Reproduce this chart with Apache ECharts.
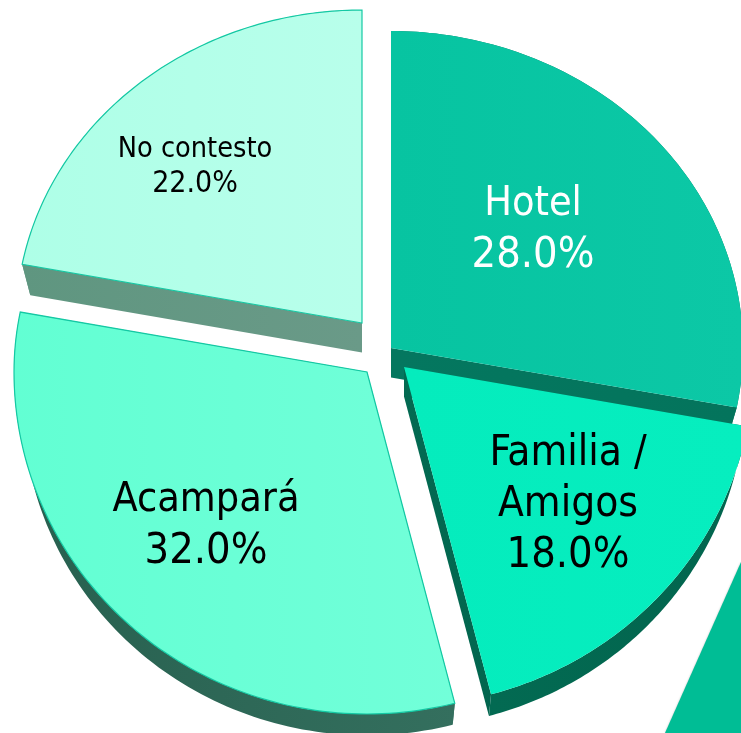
<!DOCTYPE html>
<html>
<head>
<meta charset="utf-8">
<style>
  html, body { margin: 0; padding: 0; background: #fff; }
  #chart { width: 741px; height: 733px; }
</style>
<script src="https://cdn.jsdelivr.net/npm/echarts@6/dist/echarts.min.js"></script>
</head>
<body>
<div id="chart"></div>
<script>
// data, in pie order (clockwise from 12 o'clock)
var categories = ['Hotel', 'Familia /\nAmigos', 'Acampará', 'No contesto'];
var percents = [28, 18, 32, 22];

// exploded layout of each slice: apex, ellipse radii, label centre and size
var apexX = [391, 404, 367, 362];
var apexY = [348, 367, 372, 323];
var radiusX = [352, 350, 353, 346];
var radiusYUp = [317, 338, 320, 313];
var radiusYDown = [317, 339, 342, 313];
var tilt = [0, -0.012, 0, 0];
var labelX = [533, 568, 206, 195];
var labelY = [230, 505, 526, 167];
var nameSize = [41, 42, 41, 28.6];
var percentSize = [43, 43, 43, 30];
var labelHeight = [52, 51, 52, 34];
var labelColor = ['#fff', '#000', '#000', '#000'];

// colours
var topLeft = ['#07c4a1', '#05ecbd', '#62ffd3', '#aeffe7'];
var topRight = ['#0cc8a6', '#06eebf', '#72ffd9', '#b8ffeb'];
var wallLeft = ['#04775f', '#036a52', '#27604f', '#5f9680'];
var wallRight = ['#04745c', '#02654e', '#346f5e', '#6a9a88'];
var outline = [null, null, '#14c9a4', '#14c9a4'];

var DEPTH = 29.5;
var PERSPECTIVE = 0.976;
var FONT = '"DejaVu Sans Condensed", "DejaVu Sans", sans-serif';

function sliceAngles() {
    var total = percents.reduce(function (a, b) { return a + b; }, 0);
    var out = [], acc = 0;
    for (var i = 0; i < percents.length; i++) {
        out.push([acc / total * Math.PI * 2, (acc + percents[i]) / total * Math.PI * 2]);
        acc += percents[i];
    }
    return out;
}

function renderSlice(params, api) {
    var i = params.dataIndex;
    var ang = sliceAngles()[i];
    var cx = apexX[i], cy = apexY[i];
    var rim = [], rimLow = [];
    var n = 96;
    for (var k = 0; k <= n; k++) {
        var a = ang[0] + (ang[1] - ang[0]) * k / n;
        var dx = Math.sin(a) * radiusX[i];
        var dy = -Math.cos(a);
        dy = dy * (dy < 0 ? radiusYUp[i] : radiusYDown[i]) + dx * tilt[i];
        rim.push([cx + dx, cy + dy]);
        rimLow.push([cx + dx * PERSPECTIVE, cy + DEPTH + dy * PERSPECTIVE]);
    }
    var apexLow = [cx, cy + DEPTH];
    var wallFill = new echarts.graphic.LinearGradient(0, 0, 1, 0, [
        {offset: 0, color: wallLeft[i]},
        {offset: 1, color: wallRight[i]}
    ]);
    var topFill = new echarts.graphic.LinearGradient(0, 0, 1, 0, [
        {offset: 0, color: topLeft[i]},
        {offset: 1, color: topRight[i]}
    ]);
    var children = [
        {type: 'polygon', shape: {points: [[cx, cy], apexLow, rimLow[0], rim[0]]}, style: {fill: wallFill}},
        {type: 'polygon', shape: {points: [[cx, cy], apexLow, rimLow[n], rim[n]]}, style: {fill: wallFill}},
        {type: 'polygon', shape: {points: rim.concat(rimLow.slice().reverse())}, style: {fill: wallFill}},
        {
            type: 'polygon',
            shape: {points: [[cx, cy]].concat(rim)},
            style: {fill: topFill, stroke: outline[i], lineWidth: outline[i] ? 1.2 : 0}
        },
        {
            type: 'text',
            style: {
                text: categories[i].split('\n').map(function (s) { return '{n|' + s + '}'; }).join('\n') +
                    '\n{p|' + api.value(0).toFixed(1) + '%}',
                x: labelX[i],
                y: labelY[i],
                align: 'center',
                verticalAlign: 'middle',
                rich: {
                    n: {fill: labelColor[i], fontFamily: FONT, fontSize: nameSize[i], lineHeight: labelHeight[i], align: 'center'},
                    p: {fill: labelColor[i], fontFamily: FONT, fontSize: percentSize[i], lineHeight: labelHeight[i], align: 'center'}
                }
            }
        }
    ];
    return {type: 'group', children: children};
}

var chart = echarts.init(document.getElementById('chart'));
chart.setOption({
    backgroundColor: '#fff',
    animation: false,
    // piece of a neighbouring slice poking in at the bottom right corner
    graphic: [{
        type: 'polygon',
        z: 1,
        shape: {points: [[741, 562], [665, 733], [741, 733]]},
        style: {fill: '#00bd95', shadowBlur: 2, shadowColor: 'rgba(0,0,0,0.25)'}
    }],
    series: [{
        type: 'custom',
        coordinateSystem: 'none',
        z: 2,
        renderItem: renderSlice,
        data: percents
    }]
});
</script>
</body>
</html>
